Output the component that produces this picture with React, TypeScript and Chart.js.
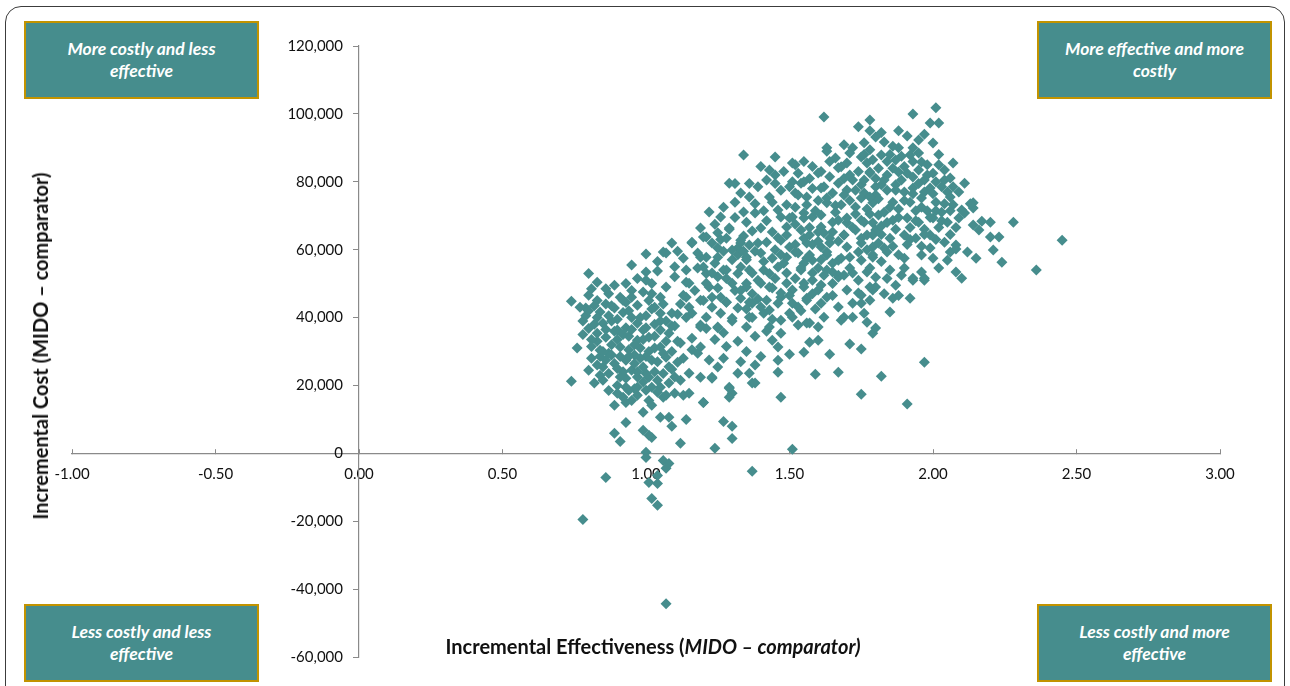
import React, { useEffect, useRef } from "react";
import { Chart, registerables } from "chart.js";

Chart.register(...registerables);

// ---- Data (incremental effectiveness, incremental cost) ----
const belowZeroAndLowCost: [number, number][] = [
  [1.07, -44300], [0.78, -19500], [0.86, -7100], [1.37, -5300], [1.51, 1200], [1.0, 300],
  [1.0, -1200], [1.06, -2100], [1.08, -3000], [1.07, -4400], [1.04, -6500], [1.01, -8600],
  [1.04, -8900], [1.02, -13300], [1.04, -15300], [1.24, 1500], [1.12, 3000], [0.91, 3500],
  [1.02, 4700], [1.01, 5300], [0.99, 6800], [0.89, 5900], [1.3, 4400], [1.3, 8000],
  [1.27, 9400], [1.09, 8000], [0.93, 9100], [1.14, 10000], [1.05, 10600], [1.08, 10600],
  [0.99, 12100],
];

const lowerLeftCloud: [number, number][] = [
  [1.0, 58700], [1.06, 59300], [1.07, 59000], [0.8, 53000], [0.83, 50400], [0.93, 50000],
  [0.95, 48000], [1.0, 53400], [1.04, 53700], [1.1, 55000], [1.1, 52000], [1.0, 51000],
  [1.07, 49000], [0.74, 44800], [0.8, 46600], [0.83, 45000], [0.87, 47000], [0.91, 46000],
  [0.93, 44500], [0.79, 42800], [0.84, 41600], [0.89, 42800], [0.97, 43600], [1.01, 45000],
  [1.02, 47000], [1.05, 41300], [1.09, 41300], [1.05, 46000], [1.13, 46600], [1.15, 43000],
  [1.14, 40000], [0.78, 39000], [0.8, 36800], [0.83, 35400], [0.85, 38300], [0.88, 39000],
  [0.86, 34200], [0.9, 36300], [0.93, 37000], [0.97, 38300], [0.97, 33300], [1.01, 34200],
  [0.99, 36300], [1.05, 36300], [1.08, 35400], [1.12, 32500], [1.16, 33900], [1.05, 31300],
  [0.98, 31000], [0.76, 31000], [0.84, 30400], [0.87, 29500], [0.91, 31300], [0.93, 27400],
  [0.85, 25400], [0.89, 26500], [0.95, 24500], [0.99, 25400], [1.02, 27400], [1.07, 28300],
  [1.11, 26800], [1.15, 23600], [1.19, 22400], [1.23, 22400], [0.74, 21200], [0.82, 20700],
  [0.85, 21500], [0.9, 20000], [0.93, 22100], [0.97, 19500], [1.01, 22400], [1.0, 18600],
  [1.05, 19500], [1.08, 20700], [1.12, 21500], [0.92, 16500], [0.95, 15600], [0.89, 14200],
  [1.01, 15600], [1.06, 16500], [1.1, 17700], [1.15, 17700], [1.2, 15000], [0.9, 17700],
  [0.97, 17100], [1.04, 18000], [1.07, 17100], [1.13, 17100], [0.93, 15000], [1.02, 14200],
  [0.82, 38000], [0.87, 40500], [0.92, 41500], [0.95, 40000], [0.83, 33000], [0.88, 32000],
  [0.94, 34500], [0.96, 29000], [0.91, 28500], [0.87, 23500], [0.92, 24000], [0.97, 22500],
  [1.0, 28500], [1.03, 31000], [1.0, 40500], [1.03, 38000], [0.94, 30500], [0.89, 36000],
  [0.81, 28000], [0.86, 27500], [0.8, 24500], [0.82, 43500], [0.86, 44000], [0.95, 46000],
  [0.99, 47500], [1.03, 43000], [1.07, 39000], [1.1, 37500], [1.12, 44000], [1.09, 30000],
  [1.13, 28000], [1.16, 30500], [0.96, 19000], [0.99, 21000], [0.94, 18500], [1.03, 24000],
  [1.06, 23500], [1.09, 24800], [0.9, 33500], [0.84, 28500], [0.78, 35000], [0.81, 48500],
  [0.77, 43000], [0.79, 40500], [0.81, 33500], [0.83, 26000], [0.85, 30000], [0.86, 36500],
  [0.88, 29000], [0.88, 43500], [0.9, 25000], [0.9, 39500], [0.91, 22500], [0.92, 35000],
  [0.92, 45000], [0.93, 19500], [0.94, 28500], [0.94, 42000], [0.95, 36500], [0.96, 26500],
  [0.96, 32000], [0.97, 24000], [0.98, 40000], [0.98, 28000], [0.99, 33500], [1.0, 23500],
  [1.0, 37000], [1.01, 30000], [1.02, 19500], [1.02, 42500], [1.03, 34500], [1.04, 27000],
  [1.04, 21500], [1.05, 39000], [1.06, 29500], [1.06, 44000], [1.07, 33000], [1.08, 25500],
  [1.09, 37500], [1.1, 22500], [1.11, 33000], [1.11, 41000], [0.87, 18500], [0.84, 23000],
  [0.81, 31500], [0.8, 42000], [0.83, 40000], [0.86, 48500], [0.89, 49500], [0.97, 51500],
  [1.02, 50000], [1.04, 56500], [0.95, 55500],
];

const centralBand: [number, number][] = [
  [1.09, 62000], [1.16, 62000], [1.2, 63700], [1.25, 65000], [1.26, 63000], [1.29, 66000],
  [1.34, 64000], [1.21, 57800], [1.25, 60500], [1.32, 60500], [1.33, 62000], [1.39, 62000],
  [1.3, 57000], [1.35, 57000], [1.14, 50400], [1.18, 54600], [1.21, 53000], [1.25, 52000],
  [1.27, 54000], [1.32, 53000], [1.36, 54000], [1.35, 50000], [1.39, 51000], [1.2, 45000],
  [1.22, 49000], [1.23, 43000], [1.28, 44500], [1.32, 42800], [1.36, 44500], [1.37, 40000],
  [1.3, 39000], [1.25, 37000], [1.21, 36800], [1.19, 37800], [1.19, 31300], [1.18, 29500],
  [1.25, 25400], [1.32, 23600], [1.36, 23600], [1.37, 20700], [1.29, 19500], [1.23, 22100],
  [1.3, 17700], [1.29, 16500], [1.29, 19200], [1.38, 20700], [1.2, 15000],
  [1.34, 87900], [1.45, 87300], [1.63, 89000], [1.51, 85500], [1.43, 83500], [1.45, 82000],
  [1.29, 79600], [1.42, 80500], [1.51, 80000], [1.54, 79600], [1.6, 82600], [1.33, 76700],
  [1.43, 75500], [1.52, 76700], [1.56, 75500], [1.62, 78500], [1.65, 76700], [1.63, 73800],
  [1.22, 71100], [1.26, 69600], [1.34, 71100], [1.38, 70800], [1.46, 71700], [1.47, 69600],
  [1.51, 69600], [1.55, 70800], [1.58, 69600], [1.61, 66700], [1.19, 66400], [1.29, 66400],
  [1.35, 68100], [1.4, 66400], [1.44, 65200], [1.49, 66700], [1.54, 65800], [1.57, 64300],
  [1.62, 64900], [1.65, 65200], [1.16, 62200], [1.21, 63700], [1.23, 62000], [1.28, 63400],
  [1.33, 62800], [1.36, 61400], [1.42, 62200], [1.47, 62800], [1.5, 60800], [1.56, 62000],
  [1.61, 60800], [1.64, 62000], [1.19, 57800], [1.25, 57800], [1.3, 59900], [1.35, 57800],
  [1.4, 59000], [1.44, 57500], [1.49, 57800], [1.53, 59000], [1.58, 56900], [1.63, 58400],
  [1.14, 54000], [1.2, 54900], [1.23, 53100], [1.28, 54000], [1.33, 54900], [1.37, 53100],
  [1.41, 54000], [1.46, 54900], [1.49, 53100], [1.54, 54000], [1.58, 53100], [1.63, 54000],
  [1.15, 50100], [1.21, 50100], [1.25, 48700], [1.3, 50100], [1.35, 49000], [1.4, 50100],
  [1.44, 48700], [1.49, 50100], [1.55, 49000], [1.61, 49600], [1.14, 46000], [1.19, 45100],
  [1.23, 46000], [1.28, 44500], [1.33, 45700], [1.37, 44200], [1.42, 45100], [1.47, 46000],
  [1.51, 44200], [1.56, 45700], [1.61, 44200], [1.16, 41300], [1.21, 40100], [1.26, 41300],
  [1.3, 39800], [1.36, 40100], [1.41, 41300], [1.47, 39200], [1.51, 40100], [1.57, 38400],
  [1.62, 40100], [1.19, 37200], [1.25, 37200], [1.35, 37200], [1.43, 37200], [1.53, 37800],
  [1.6, 37200], [1.43, 49000], [1.47, 47200], [1.51, 48100], [1.55, 50100], [1.4, 43100],
  [1.43, 42200], [1.46, 44200], [1.5, 41300], [1.53, 43100], [1.56, 45100], [1.56, 38400],
  [1.47, 35400], [1.44, 33300], [1.46, 31300], [1.5, 29200], [1.55, 29800], [1.57, 32700],
  [1.6, 33300], [1.46, 27400], [1.46, 23900], [1.59, 23300], [1.67, 23900], [1.64, 29200],
  [1.71, 32200], [1.75, 30700], [1.47, 16500], [1.75, 17400], [1.82, 22700], [1.91, 14500],
  [1.97, 26800], [1.32, 33000], [1.35, 30000], [1.28, 31500], [1.38, 34500], [1.4, 28500],
  [1.33, 27000], [1.27, 28000], [1.42, 36000], [1.38, 26000], [1.24, 33500], [1.27, 35500],
  [1.22, 27500], [1.4, 84500], [1.39, 78500], [1.47, 77500], [1.36, 79500], [1.31, 74000],
  [1.27, 72500], [1.38, 73500], [1.44, 74000], [1.52, 72500], [1.59, 71500], [1.58, 61500],
  [1.52, 61500], [1.45, 60000], [1.38, 59500], [1.32, 58500], [1.27, 59500], [1.43, 53000],
  [1.52, 51500], [1.58, 51000], [1.37, 47000], [1.31, 48000], [1.26, 46000], [1.17, 48000],
  [1.18, 59000], [1.13, 57500], [1.11, 59500], [1.24, 56000], [1.48, 56000], [1.56, 57500],
  [1.48, 83000], [1.55, 86000], [1.58, 84500], [1.58, 78000], [1.24, 67500], [1.31, 69500],
  [1.37, 65500], [1.42, 68500], [1.46, 63500], [1.52, 67500], [1.57, 66500], [1.6, 62500],
  [1.34, 59500], [1.41, 56500], [1.47, 58500], [1.55, 56000], [1.61, 57000], [1.28, 51500],
  [1.33, 48000], [1.39, 45500], [1.45, 51500], [1.5, 46500], [1.58, 47000], [1.62, 52500],
  [1.35, 42500], [1.44, 39500], [1.54, 42000], [1.59, 42500], [1.65, 46500], [1.5, 78500],
  [1.57, 81000], [1.45, 79500], [1.41, 71500], [1.36, 75500], [1.31, 79500], [1.64, 86000],
  [1.6, 74500], [1.66, 73000], [1.53, 82500],
];

const upperRightCloud: [number, number][] = [
  [1.67, 84100], [1.7, 85500], [1.75, 87300], [1.77, 85500], [1.72, 80500], [1.78, 82600],
  [1.7, 77600], [1.76, 76700], [1.8, 78500], [1.68, 73200], [1.73, 72600], [1.79, 73800],
  [1.67, 68700], [1.7, 67900], [1.75, 68700], [1.79, 67900], [1.69, 64300], [1.73, 65800],
  [1.77, 64300], [1.8, 65800], [1.7, 60800], [1.75, 62000], [1.79, 60800], [1.67, 56900],
  [1.71, 57800], [1.75, 56900], [1.79, 57800], [1.67, 52500], [1.72, 53100], [1.77, 53400],
  [1.8, 51900], [1.67, 51900], [1.7, 48100], [1.75, 46600], [1.79, 48100], [1.67, 43100],
  [1.72, 44200], [1.78, 45100], [1.68, 39200], [1.72, 40100], [1.77, 38600], [1.79, 35400],
  [1.8, 36900], [1.85, 41600], [1.92, 45700], [1.86, 45700], [1.88, 46500], [1.6, 48100],
  [1.63, 46000], [1.69, 40100], [1.75, 44200], [1.76, 41300], [1.74, 47200], [1.78, 49000],
  [1.8, 49000], [1.93, 51000], [1.97, 51000],
  [1.62, 99100], [1.78, 98200], [1.74, 96200], [1.93, 100000], [2.01, 101800], [1.99, 97300],
  [2.02, 97300], [1.88, 95000], [1.78, 95000], [1.8, 93200], [1.95, 92300], [2.0, 91400],
  [1.63, 90000], [1.69, 90900], [1.72, 90000], [1.78, 89400], [1.83, 91700], [1.88, 90000],
  [1.93, 90000], [1.76, 88000], [1.82, 87900], [1.87, 86400], [1.92, 87900], [1.96, 85800],
  [2.02, 85000], [2.07, 85500], [2.04, 83500], [1.52, 85000], [1.61, 83000], [1.55, 80000],
  [1.68, 84400], [1.71, 82000], [1.78, 82900], [1.84, 82000], [1.88, 82900], [1.93, 81400],
  [1.98, 82000], [2.01, 80000], [2.06, 81100], [2.09, 77000], [2.05, 77000], [1.99, 78200],
  [1.93, 78200], [1.87, 79100], [1.82, 79100], [1.75, 79100], [1.67, 79600], [1.61, 78200],
  [1.53, 76100], [1.49, 73200], [1.56, 73200], [1.63, 75200], [1.69, 76100], [1.75, 75200],
  [1.8, 76100], [1.86, 74000], [1.92, 74000], [1.96, 75200], [2.01, 74000], [2.07, 73200],
  [1.5, 69300], [1.55, 69300], [1.61, 70200], [1.65, 68100], [1.7, 69300], [1.76, 68100],
  [1.81, 70200], [1.86, 68700], [1.91, 69300], [1.95, 68100], [2.0, 69300], [2.05, 68100],
  [1.49, 64300], [1.55, 63400], [1.6, 65200], [1.64, 63400], [1.69, 64300], [1.75, 63400],
  [1.79, 64300], [1.85, 63400], [1.9, 64300], [1.94, 63400], [1.99, 64300], [2.04, 62200],
  [1.52, 59300], [1.57, 58400], [1.63, 59300], [1.68, 57500], [1.74, 59300], [1.79, 58400],
  [1.84, 59300], [1.9, 57500], [1.96, 58400], [2.0, 57500], [1.54, 54600], [1.6, 54600],
  [1.65, 53400], [1.71, 54600], [1.78, 54600], [1.85, 54000], [1.9, 54600], [1.96, 53400],
  [2.02, 54600], [1.84, 86000], [1.9, 84500], [1.95, 88500], [1.86, 90500], [1.81, 84000],
  [1.97, 80500], [1.9, 77000], [1.84, 77500], [1.94, 71500], [1.88, 72000], [1.83, 71000],
  [1.98, 71500], [2.03, 71000], [2.02, 66500], [1.97, 66000], [1.92, 66500], [1.87, 66000],
  [1.82, 67000], [1.86, 61000], [1.91, 61500], [1.96, 61000], [1.81, 62000], [2.03, 78500],
  [2.06, 75500], [1.77, 72000], [1.73, 70500], [1.71, 74500], [1.66, 87000], [1.69, 81000],
  [1.64, 81500], [1.66, 71000], [1.72, 66500], [1.67, 62500], [1.65, 56000], [1.69, 52500],
  [1.74, 51000], [1.82, 56500], [1.84, 51500], [1.87, 49500], [1.83, 47000], [1.89, 52500],
  [1.65, 50000], [1.71, 88500], [1.74, 83000], [1.76, 80500], [1.79, 86500], [1.8, 81000],
  [1.81, 75000], [1.83, 80500], [1.85, 88000], [1.85, 72500], [1.86, 84000], [1.87, 77500],
  [1.88, 69500], [1.89, 87500], [1.89, 80500], [1.9, 74500], [1.91, 82500], [1.92, 63000],
  [1.93, 86000], [1.93, 76500], [1.94, 68500], [1.95, 79500], [1.95, 83500], [1.96, 72500],
  [1.97, 64500], [1.97, 77000], [1.98, 85000], [1.99, 69500], [1.99, 60500], [2.0, 82500],
  [2.0, 76500], [2.01, 71500], [2.01, 63000], [2.02, 88000], [2.03, 68500], [2.04, 73500],
  [2.04, 80500], [2.06, 71500], [2.06, 64500], [2.07, 78500], [2.08, 66500], [1.78, 70500],
  [1.82, 64500], [1.84, 68000], [1.77, 60000], [1.83, 60500], [1.88, 58500], [1.76, 91500],
  [1.82, 94500], [1.91, 93500], [1.97, 94000], [1.73, 77500], [1.78, 75500],
];

const rightTail: [number, number][] = [
  [2.11, 79600], [2.14, 73800], [2.1, 71700], [2.14, 72300], [2.09, 69300], [2.14, 67300],
  [2.08, 61400], [2.12, 59300], [2.15, 57500], [2.06, 59300], [2.08, 53400], [2.13, 73500],
  [2.11, 70800], [2.17, 68400], [2.2, 68100], [2.28, 68100], [2.45, 62800], [2.23, 63700],
  [2.2, 63700], [2.16, 65800], [2.21, 59900], [2.24, 56300], [2.36, 54000], [2.1, 51600],
  [1.93, 51600], [1.97, 51600], [2.05, 56900], [2.08, 60200],
];

// ---- Axis settings and labels ----
const xMin = -1;
const xMax = 3;
const xStep = 0.5;
const yMin = -60000;
const yMax = 120000;
const yStep = 20000;

const yAxisTitle = "Incremental Cost (MIDO \u2013 comparator)";
const xAxisTitlePlain = "Incremental Effectiveness (";
const xAxisTitleItalic = "MIDO \u2013 comparator)";

const quadrantLabels = [
  "More costly and less\neffective",
  "More effective and more\ncostly",
  "Less costly and less\neffective",
  "Less costly and more\neffective",
];

const TEAL = "#468d8d";
const GOLD = "#c29300";
const AXIS_GREY = "#8a8a8a";
const FONT = "Lato, 'Open Sans', sans-serif";
const TICK_FONT_SIZE = 15;

const quadrantBoxPositions = [
  { left: 24, top: 21 },
  { left: 1037, top: 21 },
  { left: 24, top: 604 },
  { left: 1037, top: 604 },
];

// Draws the y tick labels to the left of the centred y axis (Chart.js ignores padding there)
const yTickLabelPlugin = {
  id: "yTickLabels",
  afterDraw(chart: any) {
    const ys = chart.scales.y;
    const xs = chart.scales.x;
    const ctx = chart.ctx;
    const xRight = xs.getPixelForValue(0) - 16;
    ctx.save();
    ctx.font = `${TICK_FONT_SIZE}px ${FONT}`;
    ctx.fillStyle = "#111";
    ctx.textAlign = "right";
    ctx.textBaseline = "middle";
    ys.ticks.forEach((t: any) => {
      ctx.fillText(Number(t.value).toLocaleString("en-US"), xRight, ys.getPixelForValue(t.value));
    });
    ctx.restore();
  },
};

export default function App() {
  const canvasRef = useRef<HTMLCanvasElement | null>(null);

  useEffect(() => {
    const canvas = canvasRef.current;
    if (!canvas) return;
    const allPoints = [
      ...belowZeroAndLowCost,
      ...lowerLeftCloud,
      ...centralBand,
      ...upperRightCloud,
      ...rightTail,
    ].map(([x, y]) => ({ x, y }));

    const chart = new Chart(canvas, {
      type: "scatter",
      data: {
        datasets: [
          {
            label: "Incremental cost-effectiveness",
            data: allPoints,
            pointStyle: "rectRot",
            pointRadius: 5.5,
            pointHoverRadius: 5.5,
            backgroundColor: TEAL,
            borderColor: TEAL,
            borderWidth: 0,
          },
        ],
      },
      options: {
        responsive: false,
        animation: false,
        events: [],
        layout: { padding: { left: 72, right: 70, top: 46, bottom: 29 } },
        plugins: {
          legend: { display: false },
          tooltip: { enabled: false },
          title: { display: false },
        },
        scales: {
          x: {
            type: "linear",
            min: xMin,
            max: xMax,
            position: { y: 0 } as any,
            ticks: {
              stepSize: xStep,
              autoSkip: false,
              maxRotation: 0,
              padding: 17,
              color: "#111",
              font: { family: FONT, size: TICK_FONT_SIZE },
              callback: (v: any) => Number(v).toFixed(2),
            },
            grid: { drawOnChartArea: false, tickLength: -5, color: AXIS_GREY, lineWidth: 1 },
            border: { display: true, color: AXIS_GREY, width: 1.2 },
          },
          y: {
            type: "linear",
            min: yMin,
            max: yMax,
            position: { x: 0 } as any,
            ticks: {
              stepSize: yStep,
              autoSkip: false,
              display: false,
            },
            grid: { drawOnChartArea: false, tickLength: 5, color: AXIS_GREY, lineWidth: 1 },
            border: { display: true, color: AXIS_GREY, width: 1.2 },
          },
        },
      },
      plugins: [yTickLabelPlugin],
    });
    return () => chart.destroy();
  }, []);

  return (
    <div
      style={{
        position: "fixed",
        left: 0,
        top: 0,
        width: 1290,
        height: 686,
        background: "#fff",
        overflow: "hidden",
        fontFamily: FONT,
      }}
    >
      <div
        style={{
          position: "absolute",
          left: 5,
          top: 6,
          width: 1280,
          height: 720,
          border: "1.5px solid #3c3c3c",
          borderRadius: 16,
          boxSizing: "border-box",
        }}
      />
      <canvas
        ref={canvasRef}
        width={1290}
        height={686}
        style={{ position: "absolute", left: 0, top: 0, width: 1290, height: 686 }}
      />
      {quadrantLabels.map((label, i) => (
        <div
          key={i}
          style={{
            position: "absolute",
            left: quadrantBoxPositions[i].left,
            top: quadrantBoxPositions[i].top,
            width: 235,
            height: 78,
            boxSizing: "border-box",
            background: TEAL,
            border: `2.5px solid ${GOLD}`,
            display: "flex",
            alignItems: "center",
            justifyContent: "center",
            textAlign: "center",
            color: "#fff",
            fontWeight: 700,
            fontStyle: "italic",
            fontSize: 17.5,
            lineHeight: "22px",
            whiteSpace: "pre-line",
          }}
        >
          {label}
        </div>
      ))}
      <div
        style={{
          position: "absolute",
          left: 40,
          top: 346,
          transform: "translate(-50%, -50%) rotate(-90deg)",
          whiteSpace: "nowrap",
          fontWeight: 700,
          fontSize: 20,
          color: "#111",
        }}
      >
        {yAxisTitle}
      </div>
      <div
        style={{
          position: "absolute",
          left: 653,
          top: 646,
          transform: "translate(-50%, -50%)",
          whiteSpace: "nowrap",
          fontWeight: 700,
          fontSize: 20,
          color: "#111",
        }}
      >
        {xAxisTitlePlain}
        <i>{xAxisTitleItalic}</i>
      </div>
    </div>
  );
}
